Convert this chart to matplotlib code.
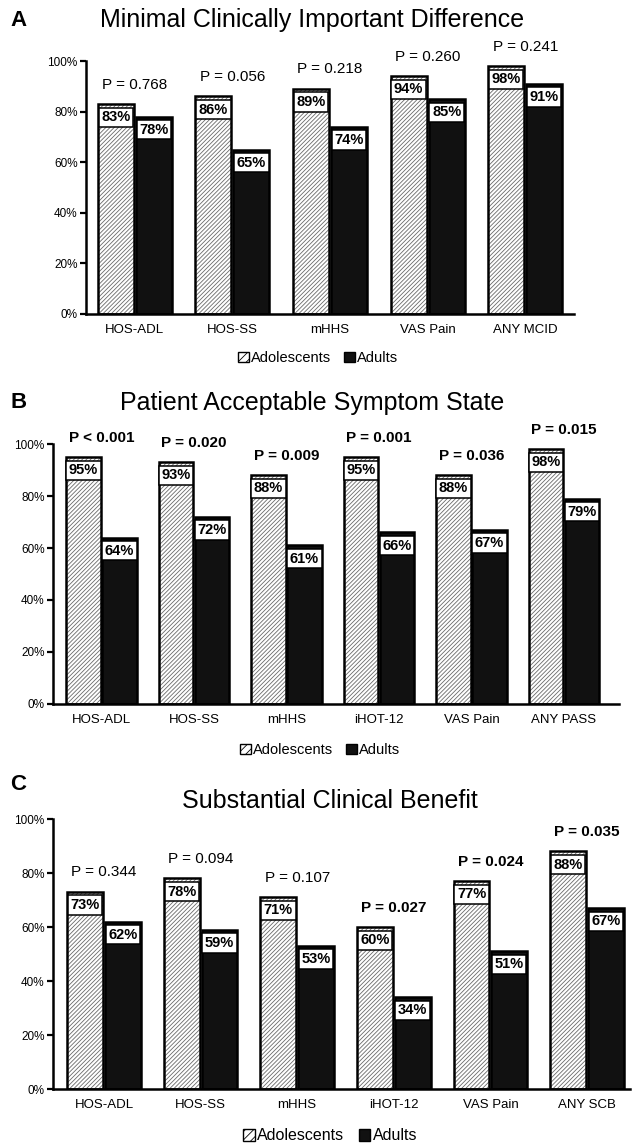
import numpy as np
import matplotlib
matplotlib.use('Agg')
import matplotlib.pyplot as plt
from matplotlib.patches import Patch
from matplotlib.ticker import FuncFormatter

plt.rcParams['font.family'] = ['Liberation Sans', 'DejaVu Sans']
plt.rcParams['hatch.linewidth'] = 0.6

# Data
a_cats = ['HOS-ADL', 'HOS-SS', 'mHHS', 'VAS Pain', 'ANY MCID']
a_adol = [83, 86, 89, 94, 98]
a_adult = [78, 65, 74, 85, 91]
a_p = ['P = 0.768', 'P = 0.056', 'P = 0.218', 'P = 0.260', 'P = 0.241']
a_bold = [False, False, False, False, False]

b_cats = ['HOS-ADL', 'HOS-SS', 'mHHS', 'iHOT-12', 'VAS Pain', 'ANY PASS']
b_adol = [95, 93, 88, 95, 88, 98]
b_adult = [64, 72, 61, 66, 67, 79]
b_p = ['P < 0.001', 'P = 0.020', 'P = 0.009', 'P = 0.001', 'P = 0.036', 'P = 0.015']
b_bold = [True, True, True, True, True, True]

c_cats = ['HOS-ADL', 'HOS-SS', 'mHHS', 'iHOT-12', 'VAS Pain', 'ANY SCB']
c_adol = [73, 78, 71, 60, 77, 88]
c_adult = [62, 59, 53, 34, 51, 67]
c_p = ['P = 0.344', 'P = 0.094', 'P = 0.107', 'P = 0.027', 'P = 0.024', 'P = 0.035']
c_bold = [False, False, False, True, True, True]

W, H = 632, 1146
fig = plt.figure(figsize=(W / 100, H / 100), dpi=100)


def px_axes(left, right, top, bottom):
    return fig.add_axes([left / W, 1 - bottom / H, (right - left) / W, (bottom - top) / H])


def panel(ax, cats, adol, adult, pvals, bold, xlim):
    x = np.arange(len(cats))
    w = 0.37
    off = 0.195
    # hatched adolescents (grey hatch, black outline drawn on top)
    ax.bar(x - off, adol, w, color='white', edgecolor='#6a6a6a', hatch='////////', linewidth=0)
    ax.bar(x - off, adol, w, fill=False, edgecolor='black', linewidth=1.8)
    ax.bar(x + off, adult, w, color='#111111', edgecolor='black', linewidth=1.8)

    box = dict(boxstyle='square,pad=0.18', facecolor='white', edgecolor='black', linewidth=1.1)
    for i in range(len(cats)):
        ax.annotate('%d%%' % adol[i], (x[i] - off, adol[i]), xytext=(0, -9.5),
                    textcoords='offset points', ha='center', va='center',
                    fontsize=10.5, fontweight='bold', bbox=box)
        ax.annotate('%d%%' % adult[i], (x[i] + off, adult[i]), xytext=(0, -9.5),
                    textcoords='offset points', ha='center', va='center',
                    fontsize=10.5, fontweight='bold', bbox=box)
        ax.annotate(pvals[i], (x[i], adol[i]), xytext=(0, 14),
                    textcoords='offset points', ha='center', va='center',
                    fontsize=11, fontweight='bold' if bold[i] else 'normal',
                    annotation_clip=False)

    ax.set_ylim(0, 100)
    ax.set_xlim(*xlim)
    ax.set_yticks([0, 20, 40, 60, 80, 100])
    ax.yaxis.set_major_formatter(FuncFormatter(lambda v, p: '%d%%' % v))
    ax.set_xticks(x)
    ax.set_xticklabels(cats, fontsize=9.5)
    ax.tick_params(axis='x', length=0, pad=7)
    ax.tick_params(axis='y', length=4, width=1.6, labelsize=8.5, pad=2)
    for s in ['top', 'right']:
        ax.spines[s].set_visible(False)
    for s in ['left', 'bottom']:
        ax.spines[s].set_linewidth(1.8)


def legend(cx, cy, size):
    handles = [Patch(facecolor='white', edgecolor='black', hatch='////', label='Adolescents'),
               Patch(facecolor='#111111', edgecolor='black', label='Adults')]
    fig.legend(handles=handles, loc='center', bbox_to_anchor=(cx / W, 1 - cy / H), ncol=2,
               frameon=False, fontsize=size, handlelength=0.75, handleheight=0.75,
               handletextpad=0.15, columnspacing=0.9)


# Panel A
ax_a = px_axes(86, 574, 61, 314)
panel(ax_a, a_cats, a_adol, a_adult, a_p, a_bold, (-0.5, 4.5))
fig.text(10 / W, 1 - 20 / H, 'A', fontsize=16, fontweight='bold', va='center')
fig.text(312 / W, 1 - 20 / H, 'Minimal Clinically Important Difference', fontsize=18, ha='center', va='center')
legend(318, 358, 10.5)

# Panel B
ax_b = px_axes(53, 619, 444, 704)
panel(ax_b, b_cats, b_adol, b_adult, b_p, b_bold, (-0.524, 5.595))
fig.text(10 / W, 1 - 403 / H, 'B', fontsize=16, fontweight='bold', va='center')
fig.text(312 / W, 1 - 403 / H, 'Patient Acceptable Symptom State', fontsize=18, ha='center', va='center')
legend(320, 750, 10.5)

# Panel C
ax_c = px_axes(53, 630, 819, 1089)
panel(ax_c, c_cats, c_adol, c_adult, c_p, c_bold, (-0.528, 5.445))
fig.text(10 / W, 1 - 785 / H, 'C', fontsize=16, fontweight='bold', va='center')
fig.text(330 / W, 1 - 801 / H, 'Substantial Clinical Benefit', fontsize=18, ha='center', va='center')
legend(330, 1136, 11.5)

fig.savefig('out.png', dpi=100)
